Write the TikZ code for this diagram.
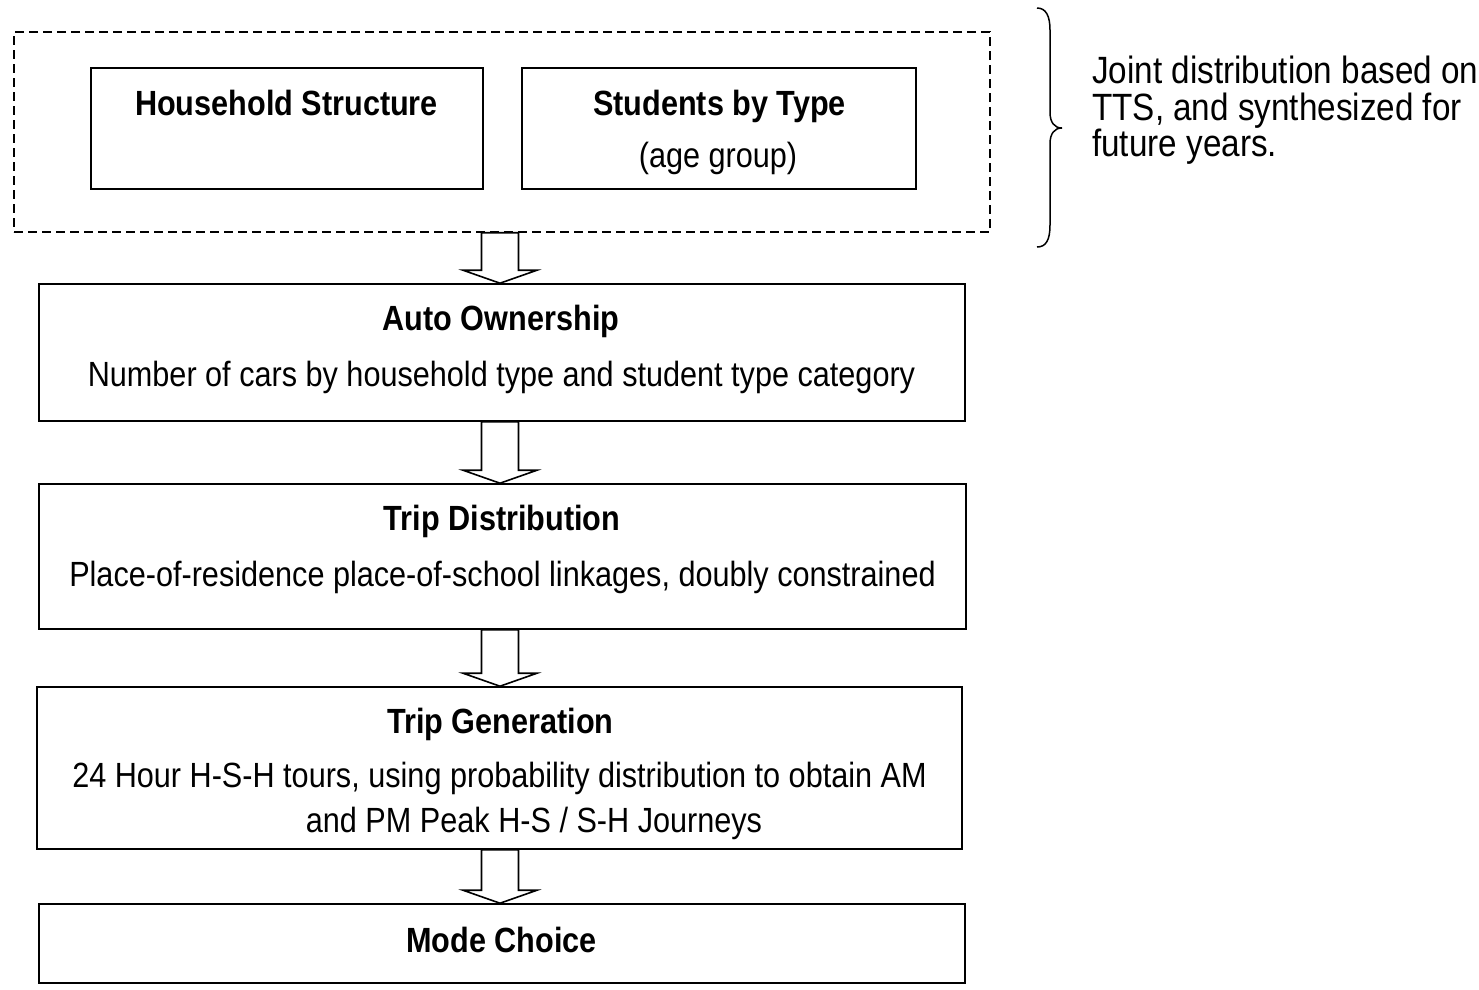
\documentclass[tikz,border=0pt]{standalone}
\usepackage{fontspec}
\setmainfont[FakeStretch=0.875]{Liberation Sans}
\usetikzlibrary{calc}

% hollow block arrow pointing down from the bottom of #1 to the top of #2
\newcommand\flowarrow[2]{%
  \draw[flowarrowline]
    ($(ax |- #1.south)+(-18.5,0)$) -- ($(ax |- #2.north)+(-18.5,-13)$)
    -- ($(ax |- #2.north)+(-37,-13)$) -- (ax |- #2.north)
    -- ($(ax |- #2.north)+(37,-13)$) -- ($(ax |- #2.north)+(18.5,-13)$)
    -- ($(ax |- #1.south)+(18.5,0)$) -- cycle;}

\begin{document}
\begin{tikzpicture}[x=1pt,y=-1pt,
  box/.style={draw, line width=1.6pt, inner sep=0pt},
  groupbox/.style={draw, dashed, dash pattern=on 9pt off 5pt, line width=1.4pt, inner sep=0pt},
  flowarrowline/.style={draw, line width=1.6pt, line join=miter, fill=white},
  txt/.style={anchor=base, inner sep=0pt, font=\fontsize{35}{40}\selectfont},
  head/.style={txt, font=\fontsize{35}{40}\selectfont\bfseries},
  note/.style={anchor=base west, inner sep=0pt, font=\fontsize{38}{38}\selectfont}
]
\useasboundingbox (0,0) rectangle (1479,989);
\coordinate (ax) at (500,0);

% input group
\node[groupbox, minimum width=976pt, minimum height=200pt] (grp) at (502,132) {};
\node[box, minimum width=392pt, minimum height=121pt] (hh) at (287,128.5) {};
\node[box, minimum width=394pt, minimum height=121pt] (st) at (719,128.5) {};
\node[head] (hhT) at (286.5,115) {Household Structure};
\node[head] (stT) at (719.5,115) {Students by Type};
\node[txt] (stS) at (718,167) {(age group)};

% model steps
\node[box, minimum width=926pt, minimum height=137pt] (auto) at (502,352.5) {};
\node[head] (autoT) at (501,330) {Auto Ownership};
\node[txt] (autoS) at (501.5,386) {Number of cars by household type and student type category};

\node[box, minimum width=927pt, minimum height=145pt] (dist) at (502.5,556.5) {};
\node[head] (distT) at (502,530) {Trip Distribution};
\node[txt] (distS) at (502.5,586) {Place-of-residence place-of-school linkages, doubly constrained};

\node[box, minimum width=925pt, minimum height=162pt] (gen) at (499.5,768) {};
\node[head] (genT) at (500.5,733) {Trip Generation};
\node[txt] (genS) at (499.5,787) {24 Hour H-S-H tours, using probability distribution to obtain AM};
\node[txt] (genS2) at (534,832) {and PM Peak H-S / S-H Journeys};

\node[box, minimum width=926pt, minimum height=79pt] (mode) at (502,943.5) {};
\node[head] (modeT) at (501.5,952) {Mode Choice};

% flow arrows
\flowarrow{grp}{auto}
\flowarrow{auto}{dist}
\flowarrow{dist}{gen}
\flowarrow{gen}{mode}

% brace and note
\coordinate (bt) at (1037,8);
\coordinate (bb) at (1037,247);
\coordinate (bm) at (1062,128);
\draw[line width=1.5pt] (bt) .. controls (1046,8) and (1050,16) .. (1050,30)
  -- (1050,112) .. controls (1050,122) and (1054,128) .. (bm)
  .. controls (1054,128) and (1050,134) .. (1050,144)
  -- (1050,225) .. controls (1050,240) and (1046,247) .. (bb);
\node[note] (nt1) at (1092,83) {Joint distribution based on};
\node[note] (nt2) at (1092,120) {TTS, and synthesized for};
\node[note] (nt3) at (1092,156) {future years.};
\end{tikzpicture}
\end{document}
